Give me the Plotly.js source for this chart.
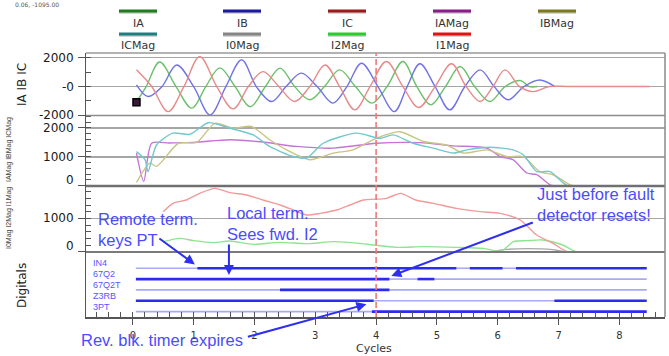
<!DOCTYPE html>
<html><head><meta charset="utf-8">
<script src="https://cdn.plot.ly/plotly-3.0.1.min.js"></script>
<style>html,body{margin:0;padding:0;background:#fff;}#chart{width:669px;height:356px;}</style>
</head><body><div id="chart"></div>
<script>
// ---- Panel 1: phase currents (cycles, amps) ----
const IA_t = [0.08,0.22,0.44,0.71,0.97,1.20,1.43,1.68,1.93,2.18,2.42,2.66,2.91,3.15,3.40,3.66,3.93,4.18,4.44,4.67,4.90,5.14,5.38,5.62,5.87,6.12,6.37,6.52,6.65];
const IA_v = [-920,0,1700,0,-1500,0,1300,0,-1400,0,1280,0,-920,0,1160,0,-1150,0,1740,0,-1270,0,1390,0,-1040,0,420,0,0];
const IB_t = [0.06,0.25,0.48,0.72,1.00,1.27,1.53,1.79,2.03,2.28,2.52,2.77,3.03,3.29,3.52,3.76,4.03,4.30,4.51,4.72,4.97,5.21,5.46,5.71,5.94,6.17,6.43,6.69,6.94];
const IB_v = [120,-690,0,1500,0,-1970,0,1850,0,-1040,0,930,0,-1150,0,1620,0,-1740,0,1580,0,-1620,0,1160,0,-920,0,460,0];
const IC_t = [0.06,0.31,0.58,0.84,1.10,1.38,1.65,1.90,2.14,2.40,2.66,2.91,3.16,3.40,3.65,3.90,4.17,4.44,4.70,4.97,5.24,5.48,5.71,5.92,6.12,6.36,6.58,6.85,7.2,8.5];
const IC_v = [1160,0,-1740,0,2080,0,-1550,0,1040,0,-1040,0,1500,0,-1620,0,1740,0,-1450,0,1580,0,-1040,0,1160,0,-350,0,0,0];
// ---- Panel 2: phase magnitudes ----
const IAMag_t = [0.06,0.18,0.31,0.6,1.0,1.6,2.1,2.69,3.3,4.0,4.72,5.26,5.82,6.04,6.25,6.48,6.64,6.86,6.92,8.5];
const IAMag_v = [1130,150,1470,1480,1500,1590,1520,1360,1300,1470,1490,1380,1300,1010,900,440,380,30,0,0];
const IBMag_t = [0.06,0.28,0.39,0.75,1.05,1.35,1.65,1.95,2.25,2.53,2.91,3.3,3.62,4.0,4.39,4.78,5.16,5.43,5.82,6.15,6.42,6.69,6.91,7.19,7.25,8.5];
const IBMag_v = [110,780,670,1470,1500,2160,1990,2050,1590,1240,900,1130,1240,1640,1870,1530,1410,1130,1240,1010,1010,490,380,30,0,0];
const ICMag_t = [0.06,0.2,0.25,0.39,0.66,0.94,1.24,1.6,1.98,2.25,2.64,2.86,3.13,3.68,4.06,4.28,4.61,4.94,5.27,5.49,5.87,6.25,6.42,6.64,6.86,7.08,7.15,8.5];
const ICMag_v = [1180,900,490,1410,1820,1780,2180,1990,1760,1360,1010,960,1470,1820,1640,1760,1470,1300,1130,1240,1330,1240,1070,490,490,90,0,0];
// ---- Panel 3: sequence magnitudes ----
const I1Mag_t = [0.5,0.66,0.88,1.1,1.35,1.6,1.87,2.14,2.42,2.64,2.86,3.08,3.35,3.57,3.79,4.17,4.4,4.65,4.94,5.32,5.71,6.04,6.37,6.64,6.91,7.15,8.5];
const I1Mag_v = [1200,1450,1550,1750,1900,1770,1700,1550,1400,1250,1100,1150,1250,1400,1550,1600,1750,1550,1450,1300,1200,1150,950,500,250,0,0];
const I2Mag_t = [0.5,0.77,1.0,1.32,1.6,1.98,2.42,2.86,3.3,3.73,3.95,4.34,4.77,5.32,5.76,6.06,6.26,6.48,6.74,7.07,7.29,8.5];
const I2Mag_v = [300,400,330,270,320,220,280,240,300,250,200,130,150,130,100,20,300,330,350,200,0,0];
const I0Mag_t = [0.5,5.9,6.1,6.5,6.9,7.1,8.5];
const I0Mag_v = [0,0,60,90,60,0,0];
// ---- Digitals: transition times and states ----
const digNames = ['IN4','67Q2','67Q2T','Z3RB','3PT'];
const digLevel = [5,4,3,2,1];
const digT = [[0.05,1.06,5.32,5.54,6.08,6.30,8.45],[0.05,4.22,4.68,4.96,8.45],[0.05,2.42,4.22,8.45],[0.05,3.96,6.93,8.45],[0.05,3.93,8.45]];
const digS = [[0,1,0,1,0,1],[1,0,1,0],[0,1,0],[1,0,1],[0,1]];
// ---- cursor ----
const cursorX = [0.06], cursorY = [-1095];
const xTicks = [0,1,2,3,4,5,6,7,8];

const L=86,T=53,W=579,H=264;
const px=(p)=>(p-L)/W, py=(p)=>(T+H-p)/H;
const FONT='DejaVu Sans, sans-serif', AFONT='Liberation Sans, Arial, sans-serif';

const traces=[];
function line(t,v,color,ax,sm){traces.push({x:t,y:v,type:'scatter',mode:'lines',xaxis:'x',yaxis:ax,line:{color:color,width:1.4,shape:'spline',smoothing:sm},hoverinfo:'skip'});}
line(IA_t,IA_v,'#6cc06c','y4',1);
line(IB_t,IB_v,'#7272e6','y4',1);
line(IC_t,IC_v,'#e68a8a','y4',1);
line(IAMag_t,IAMag_v,'#c474d4','y3',0.7);
line(IBMag_t,IBMag_v,'#c9c386','y3',0.7);
line(ICMag_t,ICMag_v,'#72c8cc','y3',0.7);
line(I0Mag_t,I0Mag_v,'#a8a8a8','y2',0.7);
line(I2Mag_t,I2Mag_v,'#8fe48f','y2',0.7);
line(I1Mag_t,I1Mag_v,'#f29a9a','y2',0.7);
traces.push({x:cursorX,y:cursorY,type:'scatter',mode:'markers',xaxis:'x',yaxis:'y4',marker:{symbol:'square',size:7,color:'#3a1a3a',line:{color:'#000',width:1.5}},hoverinfo:'skip'});

digNames.forEach((n,i)=>{
  const T_=digT[i],S=digS[i],lv=digLevel[i];
  const lx=[],ly=[],dx=[],dy=[];
  for(let k=0;k<S.length;k++){
    if(S[k]){dx.push(T_[k],T_[k+1],null);dy.push(lv,lv,null);}
    else{lx.push(T_[k],T_[k+1],null);ly.push(lv,lv,null);}
  }
  traces.push({x:lx,y:ly,type:'scatter',mode:'lines',xaxis:'x',yaxis:'y',line:{color:'#a9a9f7',width:1.6},hoverinfo:'skip'});
  traces.push({x:dx,y:dy,type:'scatter',mode:'lines',xaxis:'x',yaxis:'y',line:{color:'#2b2bf2',width:2.6},hoverinfo:'skip'});
});

const shapes=[], ann=[];
// legend
const legNames=[['IA','IB','IC','IAMag','IBMag'],['ICMag','I0Mag','I2Mag','I1Mag']];
const legCols=[['#1f7d1f','#1a1aa0','#9c1a1a','#8c1c8c','#7d7a1e'],['#1f7f7f','#858585','#2ccc2c','#dd1414']];
const colX=[138,242,347,452,557], rowLine=[11,34], rowLab=[24,46];
legNames.forEach((row,r)=>row.forEach((nm,c)=>{
  shapes.push({type:'line',xref:'paper',yref:'paper',x0:px(colX[c]-19),x1:px(colX[c]+19),y0:py(rowLine[r]+1),y1:py(rowLine[r]+1),line:{color:'#c8c8c8',width:3.5}});
  shapes.push({type:'line',xref:'paper',yref:'paper',x0:px(colX[c]-19),x1:px(colX[c]+19),y0:py(rowLine[r]),y1:py(rowLine[r]),line:{color:legCols[r][c],width:3}});
  ann.push({xref:'paper',yref:'paper',x:px(colX[c]),y:py(rowLab[r]),text:nm,showarrow:false,xanchor:'center',yanchor:'middle',font:{family:FONT,size:11,color:'#333'}});
}));
// frame and separators
const sep=(yp,c,w)=>shapes.push({type:'line',xref:'paper',yref:'paper',x0:0,x1:1,y0:py(yp),y1:py(yp),line:{color:c,width:w}});
sep(53,'#9a9a9a',1.5); sep(115.5,'#8c8c8c',1.5); sep(186,'#707070',2.5); sep(252,'#7a7a7a',2.2);
shapes.push({type:'line',xref:'paper',yref:'paper',x0:1,x1:1,y0:0,y1:1,line:{color:'#8a8a8a',width:1.5}});
// fault cursor line
shapes.push({type:'line',xref:'x',yref:'paper',x0:4,x1:4,y0:0,y1:1,line:{color:'#f07878',width:1.6,dash:'6px,3px'}});

// y tick labels
const yl=(ax,val,txt,sh)=>ann.push({xref:'paper',yref:ax,x:px(76),y:val,yshift:sh||0,text:txt,showarrow:false,xanchor:'right',yanchor:'middle',font:{family:FONT,size:12,color:'#1a1a1a'}});
yl('y4',2000,'2000');yl('y4',0,'-0');yl('y4',-2000,'-2000');
yl('y3',2000,'2000');yl('y3',1000,'1000');yl('y3',0,'0',6);
yl('y2',2000,'2000',-6);yl('y2',1000,'1000');yl('y2',0,'0',6);

// digital labels
digNames.forEach((n,i)=>ann.push({xref:'paper',yref:'y',x:px(91),y:digLevel[i]+0.45,text:n,showarrow:false,xanchor:'left',yanchor:'middle',font:{family:AFONT,size:9,color:'#5555ff'}}));

// axis titles
const tt=(x,y,txt,ang,f)=>ann.push({xref:'paper',yref:'paper',x:px(x),y:py(y),text:txt,textangle:ang,showarrow:false,xanchor:'center',yanchor:'middle',font:f});
tt(22,85,'IA IB IC',-90,{family:FONT,size:12,color:'#222'});
tt(9,150,'IAMag IBMag ICMag',-90,{family:AFONT,size:7,color:'#444'});
tt(9,218,'I0Mag I2Mag I1Mag',-90,{family:AFONT,size:7,color:'#444'});
tt(22,286,'Digitals',-90,{family:FONT,size:12,color:'#222'});
tt(374,348,'Cycles',0,{family:FONT,size:11,color:'#333'});
ann.push({xref:'paper',yref:'paper',x:px(13),y:py(5),text:'0.06, -1095.00',xanchor:'left',yanchor:'middle',showarrow:false,font:{family:FONT,size:6,color:'#555'}});

// callout texts
const ct=(x,y,txt)=>ann.push({xref:'paper',yref:'paper',x:px(x),y:py(y),text:txt,showarrow:false,xanchor:'left',yanchor:'middle',align:'left',font:{family:AFONT,size:16.5,color:'#4b4bff'}});
ct(96,229,'Remote term.<br>keys PT');
ct(225,223,'Local term.<br>Sees fwd. I2');
ct(535,205,'Just before fault<br>detector resets!');
ct(79,340,'Rev. blk. timer expires');
// arrows
const ar=(x,y,ax,ay)=>ann.push({xref:'x',yref:'y',x:x,y:y,ax:ax,ay:ay,text:'',showarrow:true,arrowhead:2,arrowsize:1,arrowwidth:2,arrowcolor:'#2f2ff2',standoff:0,startstandoff:0});
ar(1.02,5.35,-37,-27);
ar(1.58,4.38,0,-32);
ar(4.25,4.29,143,-54);
ar(3.84,1.68,-120,33);

const yBase={showticklabels:false,zeroline:false,showline:true,linecolor:'#555',linewidth:1.5,ticks:'outside',ticklen:7,tickcolor:'#555',gridcolor:'#a6a6a6',gridwidth:1.4,anchor:'x',fixedrange:true};
const layout={
  width:669,height:356,margin:{l:L,r:669-L-W,t:T,b:356-T-H},
  paper_bgcolor:'#fff',plot_bgcolor:'#fff',showlegend:false,
  xaxis:{range:[-0.77,8.75],tickvals:xTicks,ticktext:xTicks.map(String),ticks:'outside',ticklen:6,tickcolor:'#555',
    minor:{ticks:'inside',dtick:0.2,tick0:0,ticklen:5,tickcolor:'#555'},
    showline:true,linecolor:'#555',linewidth:1.5,showgrid:false,zeroline:false,anchor:'y',
    tickfont:{family:FONT,size:10,color:'#333'},ticklabelstandoff:2},
  yaxis:Object.assign({},yBase,{domain:[0,py(252)],range:[0.5,6.5],showgrid:false,ticks:'',showline:true}),
  yaxis2:Object.assign({},yBase,{domain:[py(252),py(186)],range:[-10,1970],tickvals:[0,1000,2000],minor:{ticks:'inside',dtick:200,ticklen:5,tickcolor:'#555'}}),
  yaxis3:Object.assign({},yBase,{domain:[py(186),py(115.5)],range:[-10,2430],tickvals:[0,1000,2000],minor:{ticks:'inside',dtick:200,ticklen:5,tickcolor:'#555'}}),
  yaxis4:Object.assign({},yBase,{domain:[py(115.5),1],range:[-2010,2330],tickvals:[-2000,0,2000],minor:{ticks:'inside',dtick:1000,ticklen:5,tickcolor:'#555'}}),
  shapes:shapes,annotations:ann
};
Plotly.newPlot('chart',traces,layout,{staticPlot:true,displayModeBar:false});
</script></body></html>
